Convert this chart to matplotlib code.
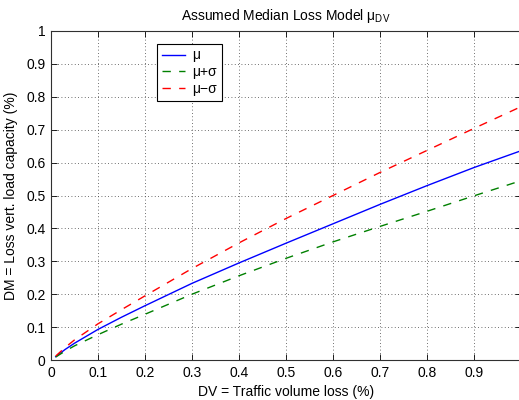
import matplotlib
matplotlib.use("Agg")
import matplotlib.pyplot as plt

plt.rcParams['font.family'] = ['Liberation Sans', 'DejaVu Sans']
plt.rcParams['mathtext.fontset'] = 'custom'
plt.rcParams['mathtext.rm'] = 'Liberation Sans'
plt.rcParams['mathtext.it'] = 'Liberation Sans:italic'

dv = [0.01, 0.03, 0.05, 0.1, 0.15, 0.2, 0.3, 0.4, 0.5, 0.6, 0.7, 0.8, 0.9, 1.0]
mu = [0.010, 0.032, 0.051, 0.093, 0.130, 0.165, 0.233, 0.295, 0.355, 0.414, 0.473, 0.530, 0.585, 0.636]
mu_plus = [0.009, 0.027, 0.043, 0.077, 0.109, 0.139, 0.200, 0.256, 0.309, 0.359, 0.406, 0.452, 0.499, 0.545]
mu_minus = [0.012, 0.038, 0.061, 0.110, 0.153, 0.195, 0.278, 0.356, 0.430, 0.500, 0.570, 0.637, 0.704, 0.770]

xticks = [0, 0.1, 0.2, 0.3, 0.4, 0.5, 0.6, 0.7, 0.8, 0.9, 1.0]
xticklabels = ['0', '0.1', '0.2', '0.3', '0.4', '0.5', '0.6', '0.7', '0.8', '0.9', '']
yticks = [0, 0.1, 0.2, 0.3, 0.4, 0.5, 0.6, 0.7, 0.8, 0.9, 1.0]
yticklabels = ['0', '0.1', '0.2', '0.3', '0.4', '0.5', '0.6', '0.7', '0.8', '0.9', '1']

fig = plt.figure(figsize=(5.19, 4.0), dpi=100)
ax = fig.add_axes([51/519, 40/400, 470/519, 329/400])

ax.plot(dv, mu, color='#0000ff', lw=1.0, label='μ')
ax.plot(dv, mu_plus, color='#008000', lw=1.0, ls=(0, (6, 6)), label='μ+σ')
ax.plot(dv, mu_minus, color='#ff0000', lw=1.0, ls=(0, (6, 6)), label='μ−σ')

ax.set_xlim(0, 1)
ax.set_ylim(0, 1)
ax.set_xticks(xticks)
ax.set_xticklabels(xticklabels, fontsize=10)
ax.set_yticks(yticks)
ax.set_yticklabels(yticklabels, fontsize=10)
ax.tick_params(direction='in', top=True, right=True, length=4, width=0.6, pad=4)
ax.grid(True, ls=(0, (1, 3)), color='#404040', lw=0.6)
for s in ax.spines.values():
    s.set_linewidth(0.8)
    s.set_color('#303030')

ax.set_title('Assumed Median Loss Model μ$_{\\rm DV}$', fontsize=10, pad=8)
ax.set_xlabel('DV = Traffic volume loss (%)', fontsize=10, labelpad=4)
ax.set_ylabel('DM = Loss vert. load capacity (%)', fontsize=10, labelpad=6)

leg = ax.legend(loc='upper left', bbox_to_anchor=(0.225, 0.962), fontsize=10,
                fancybox=False, edgecolor='black', framealpha=1, handlelength=1.7,
                handletextpad=0.5, borderpad=0.35, labelspacing=0.2, borderaxespad=0)
leg.get_frame().set_linewidth(0.8)

fig.savefig('out.png', dpi=100)
